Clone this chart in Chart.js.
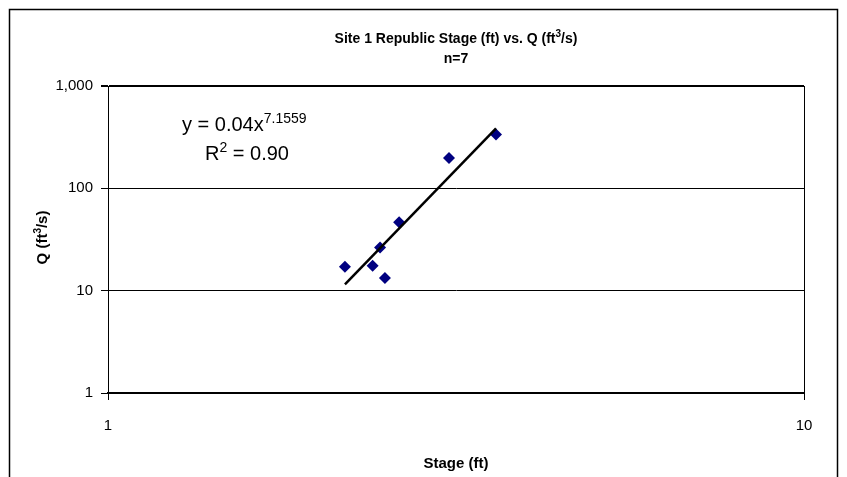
<!DOCTYPE html>
<html>
<head>
<script src="https://cdn.jsdelivr.net/npm/chart.js"></script>
<style>
  body { margin: 0; background: #fff; }
  #wrap { width: 847px; height: 477px; }
</style>
</head>
<body>
<div id="wrap"><canvas id="stageChart" width="847" height="477"></canvas></div>
<script>
// measured points (stage ft, discharge ft3/s)
const stage = [2.19, 2.40, 2.50, 2.46, 2.62, 3.09, 3.61];
const discharge = [17.1, 17.5, 13.3, 26.4, 46.6, 198, 336];

// power trendline end points
const trendStage = [2.19, 3.61];
const trendQ = [11.5, 385];

const xTicks = [1, 10];
const yTicks = [1, 10, 100, 1000];

const font = "Arial, 'Liberation Sans', sans-serif";

const pts = stage.map((s, i) => ({ x: s, y: discharge[i] }));
const trend = trendStage.map((s, i) => ({ x: s, y: trendQ[i] }));

// text with a raised small part, drawn left to right
function supText(ctx, parts, x, y, size, bold, ratio) {
  let cx = x;
  parts.forEach(p => {
    const sz = p.sup ? Math.round(size * (ratio || 0.68)) : size;
    ctx.font = (bold ? "bold " : "") + sz + "px " + font;
    ctx.fillText(p.t, cx, p.sup ? y - size * 0.42 : y);
    cx += ctx.measureText(p.t).width;
  });
  return cx - x;
}
function supWidth(ctx, parts, size, bold) {
  let w = 0;
  parts.forEach(p => {
    const sz = p.sup ? Math.round(size * 0.68) : size;
    ctx.font = (bold ? "bold " : "") + sz + "px " + font;
    w += ctx.measureText(p.t).width;
  });
  return w;
}

const decor = {
  id: "decor",
  afterDraw(chart) {
    const ctx = chart.ctx;
    const a = chart.chartArea;
    ctx.save();
    ctx.fillStyle = "#000";
    ctx.textBaseline = "alphabetic";
    ctx.textAlign = "left";

    // outer frame
    ctx.strokeStyle = "#000";
    ctx.lineWidth = 1.5;
    ctx.strokeRect(9.5, 9.5, 828, 480);

    // right edge of plot
    ctx.lineWidth = 1;
    ctx.beginPath();
    ctx.moveTo(Math.round(a.right) + 0.5, a.top);
    ctx.lineTo(Math.round(a.right) + 0.5, a.bottom + 7);
    ctx.stroke();

    const cx = (a.left + a.right) / 2;
    // title
    const t1 = [{ t: "Site 1 Republic Stage (ft) vs. Q (ft" }, { t: "3", sup: true }, { t: "/s)" }];
    let w = supWidth(ctx, t1, 14, true);
    supText(ctx, t1, cx - w / 2, 43, 14, true);
    ctx.font = "bold 14px " + font;
    ctx.textAlign = "center";
    ctx.fillText("n=7", cx, 63);
    ctx.font = "bold 15px " + font;
    ctx.fillText("Stage (ft)", cx, 468);
    ctx.textAlign = "left";

    // y axis title
    ctx.save();
    ctx.translate(47, (a.top + a.bottom) / 2 - 2);
    ctx.rotate(-Math.PI / 2);
    const t2 = [{ t: "Q (ft" }, { t: "3", sup: true }, { t: "/s)" }];
    w = supWidth(ctx, t2, 15, true);
    supText(ctx, t2, -w / 2, 0, 15, true);
    ctx.restore();

    // trendline label
    supText(ctx, [{ t: "y = 0.04x" }, { t: "7.1559", sup: true }], 182, 131, 20, false, 0.7);
    supText(ctx, [{ t: "R" }, { t: "2", sup: true }, { t: " = 0.90" }], 205, 160, 20, false, 0.7);
    ctx.restore();
  }
};

new Chart(document.getElementById("stageChart"), {
  type: "scatter",
  data: {
    datasets: [
      {
        label: "Q",
        data: pts,
        pointStyle: "rectRot",
        pointRadius: 6,
        backgroundColor: "#000080",
        borderColor: "#000080",
        borderWidth: 0,
        order: 2
      },
      {
        label: "trend",
        type: "line",
        data: trend,
        showLine: true,
        borderColor: "#000",
        borderWidth: 2.5,
        pointRadius: 0,
        fill: false,
        order: 1
      }
    ]
  },
  options: {
    responsive: false,
    animation: false,
    layout: { padding: { left: 0, top: 86, right: 43, bottom: 0 } },
    plugins: { legend: { display: false }, tooltip: { enabled: false }, title: { display: false } },
    scales: {
      x: {
        type: "logarithmic",
        min: 1, max: 10,
        afterBuildTicks: s => { s.ticks = xTicks.map(v => ({ value: v })); },
        afterFit: s => { s.height = 84; },
        ticks: {
          autoSkip: false,
          maxRotation: 0,
          padding: 17,
          color: "#000",
          font: { family: font, size: 15 },
          callback: v => String(v)
        },
        grid: { drawOnChartArea: false, drawTicks: true, tickLength: 7, color: "#000", lineWidth: 1 },
        border: { display: true, color: "#000", width: 2 }
      },
      y: {
        type: "logarithmic",
        min: 1, max: 1000,
        afterBuildTicks: s => { s.ticks = yTicks.map(v => ({ value: v })); },
        afterFit: s => { s.width = 108; },
        ticks: {
          autoSkip: false,
          padding: 8,
          color: "#000",
          font: { family: font, size: 15 },
          callback: v => Number(v).toLocaleString("en-US")
        },
        grid: {
          drawTicks: true,
          tickLength: 7,
          color: "#000",
          lineWidth: c => (c.tick && c.tick.value === 1000) ? 2 : 1
        },
        border: { display: true, color: "#000", width: 1 }
      }
    }
  },
  plugins: [decor]
});
</script>
</body>
</html>
